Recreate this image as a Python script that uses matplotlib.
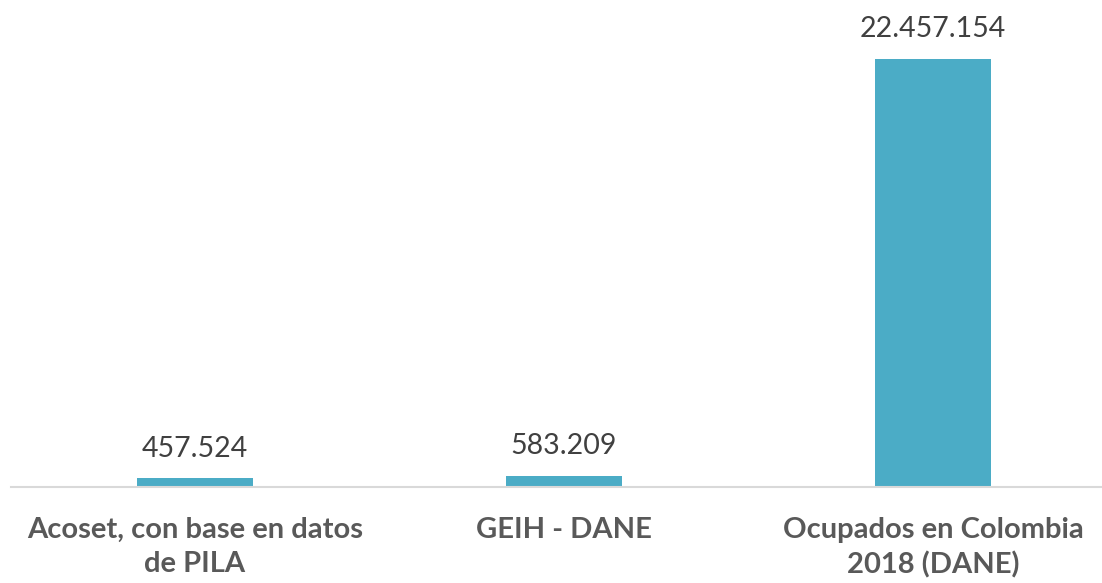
import matplotlib
matplotlib.use("Agg")
import matplotlib.pyplot as plt

categories = ["Acoset, con base en datos\nde PILA", "GEIH - DANE", "Ocupados en Colombia\n2018 (DANE)"]
values = [457524, 583209, 22457154]
value_labels = ["457.524", "583.209", "22.457.154"]

W, H = 1102, 583
fig = plt.figure(figsize=(W / 100, H / 100), dpi=100)
left_px, right_px = 10.5, 1117.5
base_px, top_px = 487, 0
ax = fig.add_axes([left_px / W, (H - base_px) / H, (right_px - left_px) / W, (base_px - top_px) / H])

x = list(range(len(categories)))
ax.bar(x, values, width=0.314, color="#4BACC6", zorder=2)
ax.set_xlim(-0.5, 2.5)
ymax = values[2] * (base_px - top_px) / (487 - 59)
ax.set_ylim(0, ymax)

for s in ["top", "right", "left"]:
    ax.spines[s].set_visible(False)
ax.spines["bottom"].set_color("#D9D9D9")
ax.spines["bottom"].set_linewidth(1.5)
ax.set_yticks([])
ax.set_xticks(x)
ax.set_xticklabels(categories, fontsize=21, fontweight="bold", color="#595959",
                   family="Lato", linespacing=1.38)
ax.tick_params(axis="x", length=0, pad=21.5)

for xi, v, lab in zip(x, values, value_labels):
    ax.annotate(lab, (xi, v), xytext=(0, 12), textcoords="offset points",
                ha="center", va="bottom", fontsize=20.5, color="#404040", family="Lato")

fig.savefig("out.png", dpi=100)
